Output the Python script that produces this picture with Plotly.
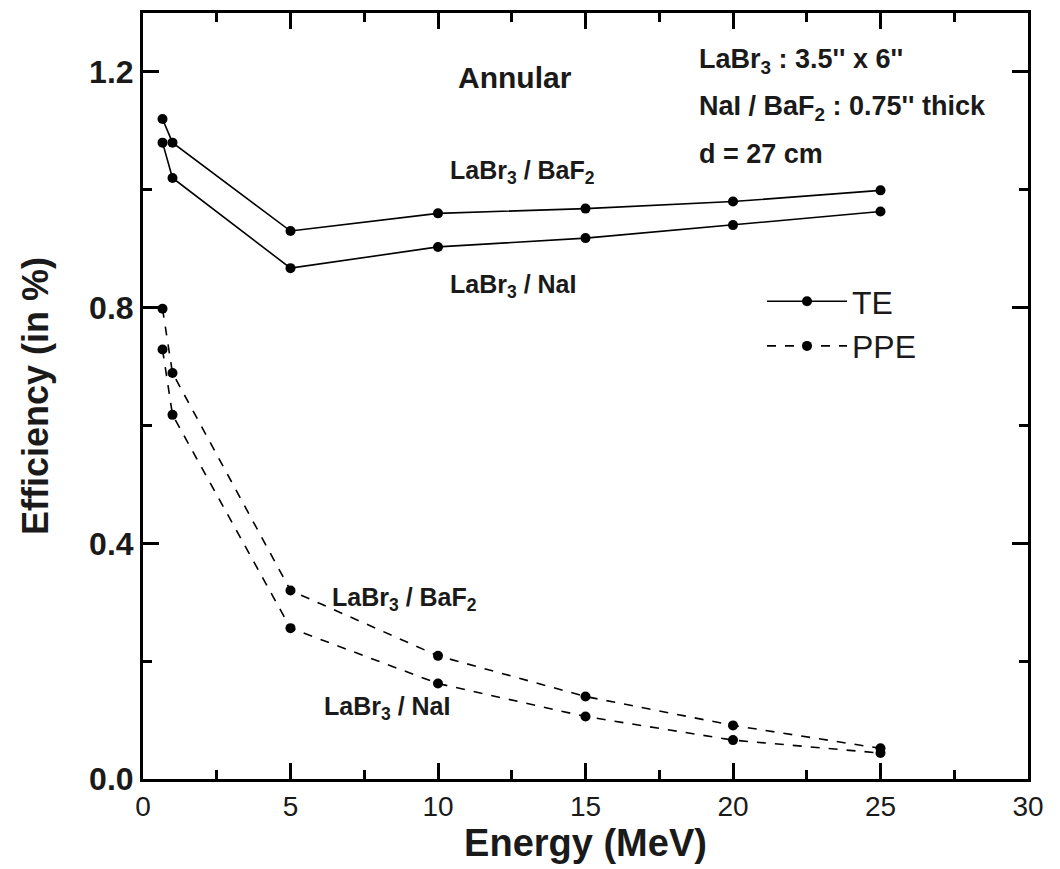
import plotly.graph_objects as go

energy = [0.662, 1.0, 5, 10, 15, 20, 25]
te_labr3_baf2 = [1.12, 1.08, 0.93, 0.96, 0.968, 0.98, 0.999]
te_labr3_nai = [1.08, 1.02, 0.867, 0.903, 0.918, 0.94, 0.963]
ppe_labr3_baf2 = [0.798, 0.689, 0.32, 0.209, 0.14, 0.091, 0.052]
ppe_labr3_nai = [0.729, 0.618, 0.256, 0.162, 0.106, 0.066, 0.044]

x_ticks = [0, 5, 10, 15, 20, 25, 30]
y_ticks = [0.0, 0.4, 0.8, 1.2]
y_tick_text = ["0.0", "0.4", "0.8", "1.2"]

FONT = "Liberation Sans, Arial, sans-serif"
INK = "#1a1a1a"

fig = go.Figure()
series = [
    ("TE", te_labr3_baf2, "solid", True),
    ("TE", te_labr3_nai, "solid", False),
    ("PPE", ppe_labr3_baf2, "dash", True),
    ("PPE", ppe_labr3_nai, "dash", False),
]
for name, vals, dash, show in series:
    fig.add_trace(go.Scatter(
        x=energy, y=vals, mode="lines+markers", name=name,
        legendgroup=name, showlegend=show,
        line=dict(color="black", width=1.6, dash=dash),
        marker=dict(color="black", size=10, symbol="circle"),
    ))

axis_common = dict(
    showline=True, linecolor="black", linewidth=3, mirror="ticks",
    ticks="inside", ticklen=16, tickwidth=3, tickcolor="black",
    showgrid=False, zeroline=False,
)

fig.update_xaxes(
    range=[0, 30], tickvals=x_ticks,
    tickfont=dict(family=FONT, size=28, color=INK),
    minor=dict(dtick=2.5, ticks="inside", ticklen=9, tickwidth=3, tickcolor="black", showgrid=False),
    title=dict(text="Energy (MeV)", font=dict(family=FONT, size=38, color=INK, weight="bold"), standoff=4),
    **axis_common,
)
fig.update_yaxes(
    range=[0, 1.3], tickvals=y_ticks, ticktext=y_tick_text,
    tickfont=dict(family=FONT, size=32, color=INK, weight="bold"),
    minor=dict(dtick=0.2, ticks="inside", ticklen=9, tickwidth=3, tickcolor="black", showgrid=False),
    title=dict(text="Efficiency (in %)", font=dict(family=FONT, size=36, color=INK, weight="bold"), standoff=30),
    **axis_common,
)

ann_font = dict(family=FONT, size=27, color=INK, weight="bold")
lab_font = dict(family=FONT, size=25, color=INK, weight="bold")
annotations = [
    dict(x=515, y=75, text="Annular", font=dict(family=FONT, size=30, color=INK, weight="bold"), xanchor="center"),
    dict(x=697, y=58, text="LaBr<sub>3</sub> : 3.5'' x 6''", font=ann_font, xanchor="left"),
    dict(x=697, y=105, text="NaI / BaF<sub>2</sub> : 0.75'' thick", font=ann_font, xanchor="left"),
    dict(x=697, y=152, text="d = 27 cm", font=ann_font, xanchor="left"),
    dict(x=448, y=170, text="LaBr<sub>3</sub> / BaF<sub>2</sub>", font=lab_font, xanchor="left"),
    dict(x=448, y=284, text="LaBr<sub>3</sub> / NaI", font=lab_font, xanchor="left"),
    dict(x=330, y=598, text="LaBr<sub>3</sub> / BaF<sub>2</sub>", font=lab_font, xanchor="left"),
    dict(x=322, y=708, text="LaBr<sub>3</sub> / NaI", font=lab_font, xanchor="left"),
]
L, R, T, B = 143, 32, 10, 90
W, H = 1060, 869
pw, ph = W - L - R, H - T - B
for a in annotations:
    fig.add_annotation(
        x=(a["x"] - L) / pw, y=(H - B - a["y"]) / ph, xref="paper", yref="paper",
        text=a["text"], showarrow=False, font=a["font"], xanchor=a["xanchor"], yanchor="middle",
    )

fig.update_layout(
    width=W, height=H,
    margin=dict(l=L, r=R, t=T, b=B),
    paper_bgcolor="white", plot_bgcolor="white",
    showlegend=True,
    legend=dict(
        x=(762 - L) / pw, y=(H - B - 272) / ph, xanchor="left", yanchor="top",
        bgcolor="rgba(0,0,0,0)", font=dict(family=FONT, size=32, color=INK),
        itemwidth=80, tracegroupgap=0,
    ),
)

fig.write_html("out.html")
